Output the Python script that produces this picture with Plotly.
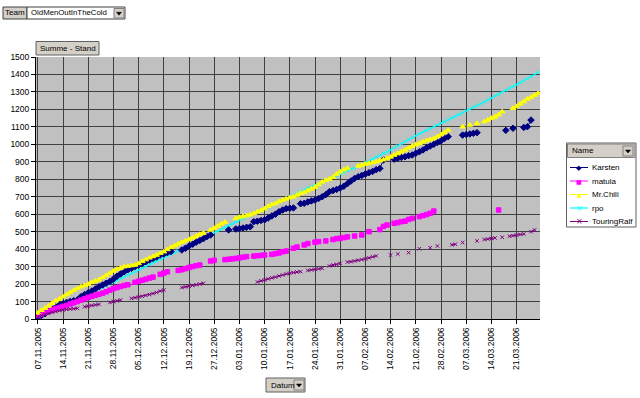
import plotly.graph_objects as go

W, H = 640, 398
N = None

DATES = [
    "07.11.2005", "08.11.2005", "09.11.2005", "10.11.2005", "11.11.2005", "12.11.2005", "13.11.2005",
    "14.11.2005", "15.11.2005", "16.11.2005", "17.11.2005", "18.11.2005", "19.11.2005", "20.11.2005",
    "21.11.2005", "22.11.2005", "23.11.2005", "24.11.2005", "25.11.2005", "26.11.2005", "27.11.2005",
    "28.11.2005", "29.11.2005", "30.11.2005", "01.12.2005", "02.12.2005", "03.12.2005", "04.12.2005",
    "05.12.2005", "06.12.2005", "07.12.2005", "08.12.2005", "09.12.2005", "10.12.2005", "11.12.2005",
    "12.12.2005", "13.12.2005", "14.12.2005", "15.12.2005", "16.12.2005", "17.12.2005", "18.12.2005",
    "19.12.2005", "20.12.2005", "21.12.2005", "22.12.2005", "23.12.2005", "24.12.2005", "26.12.2005",
    "27.12.2005", "28.12.2005", "29.12.2005", "30.12.2005", "31.12.2005", "01.01.2006", "02.01.2006",
    "03.01.2006", "04.01.2006", "05.01.2006", "06.01.2006", "07.01.2006", "08.01.2006", "09.01.2006",
    "10.01.2006", "11.01.2006", "12.01.2006", "13.01.2006", "14.01.2006", "15.01.2006", "16.01.2006",
    "17.01.2006", "18.01.2006", "19.01.2006", "20.01.2006", "21.01.2006", "22.01.2006", "23.01.2006",
    "24.01.2006", "25.01.2006", "26.01.2006", "27.01.2006", "28.01.2006", "29.01.2006", "30.01.2006",
    "31.01.2006", "01.02.2006", "02.02.2006", "03.02.2006", "04.02.2006", "05.02.2006", "06.02.2006",
    "07.02.2006", "08.02.2006", "09.02.2006", "10.02.2006", "11.02.2006", "12.02.2006", "13.02.2006",
    "14.02.2006", "15.02.2006", "16.02.2006", "17.02.2006", "18.02.2006", "19.02.2006", "20.02.2006",
    "21.02.2006", "22.02.2006", "23.02.2006", "24.02.2006", "25.02.2006", "26.02.2006", "27.02.2006",
    "28.02.2006", "01.03.2006", "02.03.2006", "03.03.2006", "04.03.2006", "05.03.2006", "06.03.2006",
    "07.03.2006", "08.03.2006", "09.03.2006", "10.03.2006", "11.03.2006", "12.03.2006", "13.03.2006",
    "14.03.2006", "15.03.2006", "16.03.2006", "17.03.2006", "18.03.2006", "19.03.2006", "20.03.2006",
    "21.03.2006", "22.03.2006", "23.03.2006", "24.03.2006", "25.03.2006", "26.03.2006", "27.03.2006",
]

TICK_LABELS = [
    "07.11.2005", "14.11.2005", "21.11.2005", "28.11.2005", "05.12.2005", "12.12.2005",
    "19.12.2005", "27.12.2005", "03.01.2006", "10.01.2006", "17.01.2006", "24.01.2006",
    "31.01.2006", "07.02.2006", "14.02.2006", "21.02.2006", "28.02.2006", "07.03.2006",
    "14.03.2006", "21.03.2006",
]

KARSTEN = [
    10, 20, 30, 45, 55, 68, 80, 88, 95, 100,
    105, 109, 128, 140, 150, 160, 172, 185, 195, 205,
    214, 228, 245, 258, 270, 282, 290, 300, 309, 318,
    328, 338, 347, 355, 366, 372, 380, 386, N, N,
    395, 405, 418, 428, 440, 450, 460, 472, 481, N,
    N, N, N, 510, N, 515, 518, 521, 525, 528,
    557, 560, 564, 568, 578, 590, 600, 614, 624, 632,
    634, 636, N, 660, 662, 670, 676, 681, 690, 700,
    712, 729, 735, 742, 750, 760, 775, 790, 805, 815,
    822, 830, 838, 845, 855, 862, 910, N, N, 915,
    920, 925, 929, 935, 939, 949, 958, 968, 980, 990,
    1000, 1011, 1020, 1034, 1044, N, N, N, 1053, 1056,
    1059, 1063, 1067, N, N, N, N, N, N, N,
    1080, N, 1092, N, N, 1097, 1101, 1139, N, N,
]

MATULA = [
    20, 28, 36, 44, 52, 60, 66, 72, 78, 86,
    93, 100, 108, 116, 124, 130, 136, 142, 148, 156,
    165, 174, 180, 186, 192, 196, N, 210, 216, 222,
    228, 234, 240, N, 256, 263, 270, N, N, 278,
    282, 288, 295, 300, 305, 309, N, N, 332, 336,
    N, N, 340, 342, 344, 347, 350, 354, 357, N,
    360, 362, 364, 366, N, 370, 374, 378, 385, 389,
    N, 405, 412, N, 424, 432, N, 440, 443, N,
    447, N, 455, 460, 462, 466, 470, N, 475, N,
    481, N, 500, N, N, 512, 530, 538, N, 548,
    552, 557, 560, 570, 576, N, 586, 592, 598, 605,
    618, N, N, N, N, N, N, N, N, N,
    N, N, N, N, N, N, N, N, 624, N,
    N, N, N, N, N, N, N, N, N, N,
]

MR_CHILI = [
    35, 50, 62, 75, 90, 105, 115, 128, 140, 152,
    165, 175, 185, 192, 200, 210, 218, 225, 238, 250,
    262, 275, 285, 292, 300, 303, 306, 309, 318, 330,
    340, 350, 358, 366, 376, 385, 398, 410, 420, 430,
    440, 448, 456, 465, 475, 485, 492, N, 510, 520,
    532, 545, 555, N, N, 576, 582, 588, 592, 597,
    605, 614, 622, 632, 645, 655, 662, 672, 681, 688,
    695, 700, 710, 720, 725, 735, 745, 755, 770, 785,
    795, 801, 812, 830, 843, 855, 863, N, N, 876,
    882, 888, 891, 896, 901, 906, 912, 920, 928, 939,
    948, 958, 968, 980, 990, 998, 1006, 1015, 1022, 1028,
    1034, 1045, 1056, 1068, 1082, N, N, N, 1101, N,
    1111, N, 1120, N, 1130, 1140, 1150, 1158, 1170, 1187,
    N, N, 1206, 1218, 1232, 1245, 1260, 1270, 1282, 1292,
]

RPO = [
    5, 15, 25, 35, 45, 55, 64, 72, 82, 92,
    100, 110, 120, 130, 140, 150, 160, 170, 180, 190,
    200, 210, 222, 232, 242, 252, 262, 272, 282, 292,
    300, 310, 320, 330, 340, 350, 360, 370, 380, 390,
    400, 410, 420, 430, 440, 450, 460, 472, 485, 495,
    505, 515, 525, 535, 545, 555, 566, 578, 588, 596,
    604, 612, 620, 630, 640, 650, 660, 670, 680, 690,
    700, 710, 720, 730, 740, 750, 758, 766, 774, 782,
    792, 800, 810, 820, 830, 840, 850, 858, 866, 874,
    884, 895, 906, 917, 928, 938, 948, 958, 968, 980,
    992, 1004, 1016, 1028, 1040, 1050, 1060, 1070, 1080, 1090,
    1100, 1110, 1120, 1130, 1140, 1150, 1160, 1170, 1180, 1192,
    1202, 1212, 1222, 1232, 1242, 1254, 1265, 1276, 1287, 1298,
    1309, 1320, 1330, 1341, 1352, 1364, 1376, 1388, 1400, 1412,
]

TOURING_RALF = [
    13, 20, 27, 33, 38, 43, 48, 52, 55, 57,
    59, 61, N, 70, 74, 78, 81, 84, N, N,
    95, 100, 104, 109, N, N, 118, 122, 126, 130,
    135, 140, 146, 152, 160, 166, N, N, N, N,
    180, 184, 188, 192, 196, 200, 204, N, N, N,
    N, N, N, N, N, N, N, N, N, N,
    N, 212, 218, 224, 230, 236, 240, 246, 252, 258,
    262, 266, 269, 271, N, 278, 281, 284, 287, 290,
    N, 304, 309, 313, 318, N, 326, 328, 332, 336,
    340, 344, 350, 356, 361, N, N, N, 366, N,
    372, N, N, 380, N, N, 402, N, N, 408,
    N, 418, N, N, N, 425, 428, N, 438, N,
    N, N, 447, N, 455, 458, 461, 464, N, 468,
    N, 474, 477, 480, 484, 487, N, 500, 510, N,
]

SERIES = [
    ("Karsten", KARSTEN, "#000080", "diamond", 5, 1.0),
    ("matula", MATULA, "#FF00FF", "square", 4.5, 1.0),
    ("Mr.Chili", MR_CHILI, "#FFFF00", "triangle-up", 5, 1.0),
    ("rpo", RPO, "#00FFFF", "x-thin-open", 3, 1.1),
    ("TouringRalf", TOURING_RALF, "#800080", "x-thin-open", 3.5, 1.0),
]
# drawing order: rpo underneath so the marker series sit on top of it
DRAW_ORDER = ["rpo", "Karsten", "matula", "Mr.Chili", "TouringRalf"]

FONT = "Arial, Liberation Sans, sans-serif"
BTN = "#D4D0C8"
GRID = "#404040"

# plot area in pixels
L, R, T, B = 36, 540, 57, 319


def px(x):
    return x / W


def py(y):
    return 1 - y / H


fig = go.Figure()
by_name = {s[0]: s for s in SERIES}
for key in DRAW_ORDER:
    name, vals, col, sym, size, lw = by_name[key]
    fig.add_trace(go.Scatter(
        x=DATES, y=vals, name=name, mode="lines+markers",
        line=dict(color=col, width=lw),
        marker=dict(symbol=sym, size=size, color=col, line=dict(color=col, width=1)),
        connectgaps=False, showlegend=False,
    ))

shapes = []
annotations = []


def box(x0, y0, x1, y1, fill, line="#404040", lw=1):
    shapes.append(dict(type="rect", xref="paper", yref="paper",
                       x0=px(x0), x1=px(x1), y0=py(y1), y1=py(y0),
                       fillcolor=fill, line=dict(color=line, width=lw), layer="above"))


def text(x, y, s, anchor="left", size=8, color="black"):
    annotations.append(dict(xref="paper", yref="paper", x=px(x), y=py(y), text=s,
                            showarrow=False, xanchor=anchor, yanchor="middle",
                            font=dict(family=FONT, size=size, color=color)))


def arrow_button(x0, y0, x1, y1):
    box(x0, y0, x1, y1, BTN, line="#808080")
    cx, cy = (x0 + x1) / 2, (y0 + y1) / 2
    path = "M {} {} L {} {} L {} {} Z".format(
        px(cx - 2.5), py(cy - 1), px(cx + 2.5), py(cy - 1), px(cx), py(cy + 2))
    shapes.append(dict(type="path", xref="paper", yref="paper", path=path,
                       fillcolor="black", line=dict(color="black", width=0.5), layer="above"))


# Team field
box(3, 7, 27, 19, BTN, line="#404040")
text(15, 13, "Team", anchor="center")
box(27, 7, 125, 19, "white", line="#404040")
text(29, 13, "OldMenOutInTheCold", size=7.8)
arrow_button(114, 8.5, 124, 18)

# Data field
box(36, 41.5, 99, 55, BTN, line="#606060")
text(67.5, 48.5, "Summe - Stand", anchor="center")

# Category field
box(266, 378, 305, 392, BTN, line="#606060")
text(268.5, 385, "Datum")
arrow_button(294, 380, 304, 390)

# Legend
box(566.5, 143, 636, 227, "white", line="#606060")
box(567.5, 144, 635, 157.5, BTN, line="#808080")
text(570, 151, "Name")
arrow_button(623, 146, 633, 156)
glyphs = ["\u25C6", "\u25A0", "\u25B2", "\u00D7", "\u00D7"]
gsizes = [7, 6, 6, 8, 8]
for i, (name, vals, col, sym, size, lw) in enumerate(SERIES):
    yy = 167.5 + 13.5 * i
    shapes.append(dict(type="line", xref="paper", yref="paper",
                       x0=px(570), x1=px(588), y0=py(yy), y1=py(yy),
                       line=dict(color=col, width=1.2 if name == "rpo" else 1), layer="above"))
    annotations.append(dict(xref="paper", yref="paper", x=px(579), y=py(yy), text=glyphs[i],
                            showarrow=False, xanchor="center", yanchor="middle",
                            font=dict(family="DejaVu Sans", size=gsizes[i], color=col)))
    text(589.5, yy, name)

fig.update_layout(
    width=W, height=H,
    margin=dict(l=0, r=0, t=0, b=0, autoexpand=False),
    paper_bgcolor="white", plot_bgcolor="#C0C0C0",
    font=dict(family=FONT, size=8, color="black"),
    shapes=shapes, annotations=annotations,
    xaxis=dict(
        type="category", categoryorder="array", categoryarray=DATES,
        range=[-0.5, len(DATES) - 0.5],
        domain=[px(L), px(R)],
        tickmode="array", tickvals=TICK_LABELS, ticktext=TICK_LABELS,
        tickangle=-90, ticks="outside", ticklen=4, tickcolor="black",
        showgrid=True, gridcolor=GRID, gridwidth=1.4,
        showline=True, linecolor="black", linewidth=1,
        tickfont=dict(family=FONT, size=8.5, color="black"),
        automargin=False, zeroline=False, fixedrange=True,
    ),
    yaxis=dict(
        range=[0, 1500], dtick=100, tick0=0,
        domain=[py(B), py(T)],
        ticks="outside", ticklen=4, tickcolor="black",
        showgrid=True, gridcolor=GRID, gridwidth=1.4,
        showline=True, linecolor="black", linewidth=1,
        tickfont=dict(family=FONT, size=8.5, color="black"),
        automargin=False, zeroline=False, fixedrange=True,
    ),
)

fig.write_html("out.html")
